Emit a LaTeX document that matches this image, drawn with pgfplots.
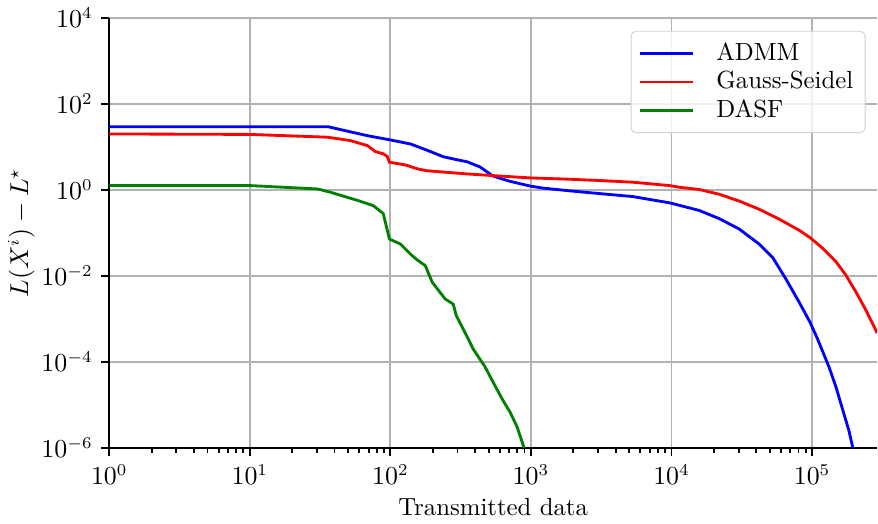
\documentclass[border=0pt]{standalone}
\usepackage{pgfplots}
\pgfplotsset{compat=1.18}
\definecolor{cAdmm}{HTML}{0000FF}
\definecolor{cGs}{HTML}{FF0000}
\definecolor{cDasf}{HTML}{008000}
\begin{document}
\begin{tikzpicture}[font=\fontsize{10.5}{12.6}\selectfont]
\begin{loglogaxis}[
    scale only axis,
    width=325pt, height=182pt,
    xmin=1, xmax=2.9e5, ymin=1e-6, ymax=1e4,
    ytick={1e-6,1e-4,1e-2,1,1e2,1e4},
    minor ytick={},
    axis lines=left, axis line style={-, line width=0.8pt},
    tick align=outside, tick style={black, line width=0.8pt},
    major tick length=3.5pt, minor tick length=2pt,
    grid=major, grid style={gray!60, line width=0.8pt},
    xlabel={Transmitted data},
    ylabel={$L(X^i) - L^\star$},
    ylabel shift=-4pt, xlabel shift=-1pt,
    legend style={at={(0.985,0.97)}, anchor=north east, draw=gray!35, rounded corners=2pt,
        fill=white, fill opacity=0.8, text opacity=1, row sep=-1pt, inner sep=3pt},
    legend cell align=left,
    legend image code/.code={
        \draw[line width=1.2pt] plot coordinates {(0cm,0cm) (0.8cm,0cm)};
        \path (1.05cm,0cm);},
]
\addplot[color=cAdmm, line width=1.2pt] coordinates {
(1,29.5) (36,29.5) (50,23) (70,18) (100,14.5) (139,11.7) (180,8.5) (238,5.9) (300,5.0)
(352,4.5) (435,3.4) (537,2.1) (700,1.6) (984,1.23) (1217,1.1) (1890,0.95) (3084,0.82)
(5290,0.70) (9680,0.5) (11400,0.437) (15800,0.331) (21900,0.214) (30300,0.123)
(42000,0.055) (52400,0.0269) (65100,0.0085) (80900,0.00245) (96800,8.3e-4) (109000,3.5e-4)
(132000,7.6e-5) (148000,2.6e-5) (163000,8.9e-6) (183000,2.5e-6) (195000,1e-6) (205000,5e-7)
};
\addlegendentry{ADMM}
\addplot[color=cGs, line width=1.2pt] coordinates {
(1,20) (10,19.5) (35.7,16.8) (52,14) (68.7,10.7) (78,7.8) (89,6.9) (95,6) (98.4,4.4)
(128,3.8) (155,3.1) (180,2.8) (238,2.6) (352,2.35) (537,2.15) (984,1.9) (1890,1.77)
(3084,1.65) (5290,1.51) (9680,1.26) (11400,1.15) (15800,1.02) (21900,0.79) (30300,0.55)
(42000,0.355) (58300,0.209) (80900,0.115) (96800,0.0776) (118000,0.0447) (147000,0.0219)
(173000,0.0107) (204000,0.00437) (240000,0.00166) (283000,5.6e-4) (290000,4.7e-4)
};
\addlegendentry{Gauss-Seidel}
\addplot[color=cDasf, line width=1.2pt] coordinates {
(1,1.26) (10,1.26) (30.4,1.05) (37.5,0.88) (58.3,0.57) (75.7,0.43) (89,0.28) (98.4,0.072)
(117.8,0.055) (139,0.032) (155,0.0235) (177,0.0174) (198.5,0.0071) (245.5,0.0029)
(280,0.0022) (294,0.0012) (352,3.8e-4) (388,2.0e-4) (472,7.6e-5) (537,3.4e-5)
(633,1.26e-5) (710,6.8e-6) (796,3.1e-6) (906,8.7e-7)
};
\addlegendentry{DASF}
\end{loglogaxis}
\end{tikzpicture}
\end{document}
